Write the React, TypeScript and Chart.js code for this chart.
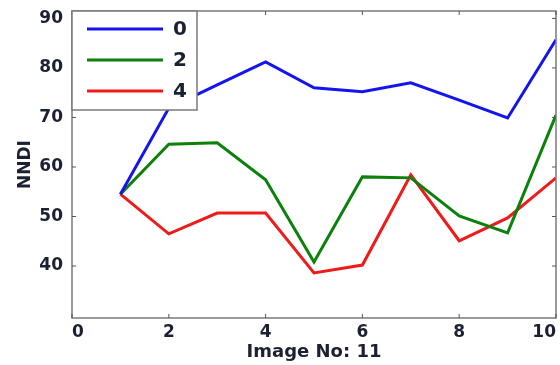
import React, { useEffect, useRef } from "react";
import { Chart, registerables } from "chart.js";

Chart.register(...registerables);

const xValues = [1, 2, 3, 4, 5, 6, 7, 8, 9, 10];
const series0 = [54.5, 71.9, 76.6, 81.2, 76.0, 75.2, 77.0, 73.5, 69.9, 85.7];
const series2 = [54.5, 64.6, 64.9, 57.4, 40.8, 58.0, 57.8, 50.1, 46.7, 70.5];
const series4 = [54.5, 46.5, 50.7, 50.7, 38.6, 40.2, 58.4, 45.1, 49.7, 57.8];
const seriesLabels = ["0", "2", "4"];
const seriesColors = ["#1414ee", "#0b800b", "#ee1b1b"];
const yTicks = [40, 50, 60, 70, 80, 90];
const xTicks = [0, 2, 4, 6, 8, 10];
const xTitle = "Image No: 11";
const yTitle = "NNDI";

const TEXT = "#1b2133";
const FONT = "'DejaVu Sans', sans-serif";

const framePlugin = {
  id: "frameAndLegend",
  afterDatasetsDraw(chart: any) {
    const { ctx, chartArea: a, scales } = chart;
    ctx.save();
    ctx.strokeStyle = "#7a7a7a";
    ctx.lineWidth = 1.5;
    ctx.strokeRect(a.left, a.top, a.right - a.left, a.bottom - a.top);
    ctx.lineWidth = 1;
    ctx.strokeStyle = "#555";
    const tl = 4;
    xTicks.forEach((v) => {
      const px = scales.x.getPixelForValue(v);
      ctx.beginPath();
      ctx.moveTo(px, a.bottom);
      ctx.lineTo(px, a.bottom - tl);
      ctx.moveTo(px, a.top);
      ctx.lineTo(px, a.top + tl);
      ctx.stroke();
    });
    yTicks.forEach((v) => {
      const py = scales.y.getPixelForValue(v);
      ctx.beginPath();
      ctx.moveTo(a.left, py);
      ctx.lineTo(a.left + tl, py);
      ctx.moveTo(a.right, py);
      ctx.lineTo(a.right - tl, py);
      ctx.stroke();
    });
    const lx = a.left;
    const ly = a.top;
    const lw = 125;
    const lh = 99;
    ctx.fillStyle = "#ffffff";
    ctx.fillRect(lx, ly, lw, lh);
    ctx.strokeStyle = "#7a7a7a";
    ctx.lineWidth = 1.5;
    ctx.strokeRect(lx, ly, lw, lh);
    chart.data.datasets.forEach((ds: any, i: number) => {
      const y = ly + 18 + i * 31;
      ctx.strokeStyle = ds.borderColor;
      ctx.lineWidth = 3;
      ctx.beginPath();
      ctx.moveTo(lx + 15, y);
      ctx.lineTo(lx + 91, y);
      ctx.stroke();
      ctx.fillStyle = TEXT;
      ctx.font = `bold 20px ${FONT}`;
      ctx.textBaseline = "middle";
      ctx.textAlign = "left";
      ctx.fillText(ds.label, lx + 101, y + 1);
    });
    ctx.restore();
  },
};

const zeroPad = (s: any) => {
  s.paddingTop = 0;
  s.paddingBottom = 0;
  s.paddingLeft = 0;
  s.paddingRight = 0;
};

export default function App() {
  const ref = useRef<HTMLCanvasElement>(null);
  useEffect(() => {
    const all = [series0, series2, series4];
    const chart = new Chart(ref.current!, {
      type: "line",
      data: {
        datasets: all.map((s, i) => ({
          label: seriesLabels[i],
          data: xValues.map((x, j) => ({ x, y: s[j] })),
          borderColor: seriesColors[i],
          backgroundColor: seriesColors[i],
          borderWidth: 3,
          pointRadius: 0,
          tension: 0,
          fill: false,
        })),
      },
      options: {
        animation: false,
        responsive: true,
        maintainAspectRatio: false,
        layout: { padding: { left: 0, top: 11, right: 4, bottom: 0 } },
        plugins: {
          legend: { display: false },
          tooltip: { enabled: false },
        },
        scales: {
          x: {
            type: "linear",
            min: 0,
            max: 10,
            border: { display: false },
            grid: { display: false, drawTicks: false },
            afterBuildTicks: (s: any) => {
              s.ticks = xTicks.map((v) => ({ value: v }));
            },
            afterFit: (s: any) => {
              s.height = 47;
              zeroPad(s);
            },
            ticks: {
              padding: 4,
              align: "inner",
              color: TEXT,
              font: { family: FONT, size: 17, weight: "bold" },
              maxRotation: 0,
            },
            title: {
              display: true,
              text: xTitle,
              color: TEXT,
              font: { family: FONT, size: 18, weight: "bold" },
              padding: { top: 2, bottom: 2 },
            },
          },
          y: {
            type: "linear",
            min: 29.5,
            max: 91.5,
            border: { display: false },
            grid: { display: false, drawTicks: false },
            afterBuildTicks: (s: any) => {
              s.ticks = yTicks.map((v) => ({ value: v }));
            },
            afterFit: (s: any) => {
              s.width = 72;
              zeroPad(s);
            },
            ticks: {
              padding: 9,
              color: TEXT,
              font: { family: FONT, size: 17, weight: "bold" },
            },
            title: {
              display: true,
              text: yTitle,
              color: TEXT,
              font: { family: FONT, size: 17, weight: "bold" },
              padding: { top: 15, bottom: 0 },
            },
          },
        },
      },
      plugins: [framePlugin],
    });
    return () => chart.destroy();
  }, []);
  return (
    <div style={{ position: "absolute", left: 0, top: 0, width: 560, height: 365, background: "#fff" }}>
      <canvas ref={ref} />
    </div>
  );
}
